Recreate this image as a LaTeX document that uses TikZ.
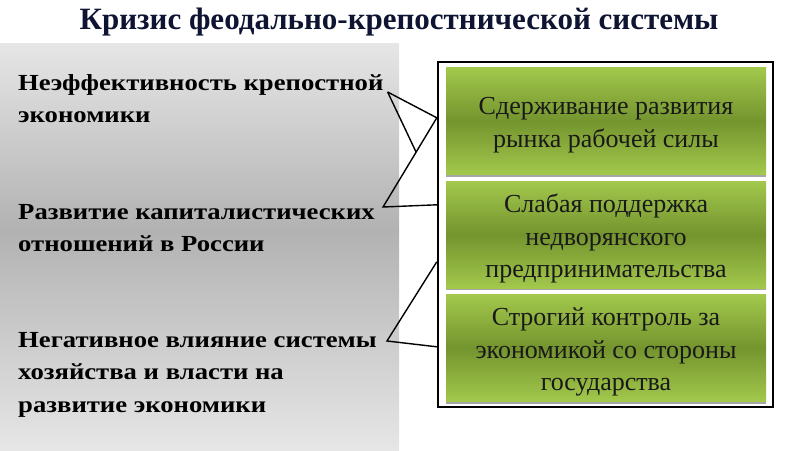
\documentclass[tikz,border=0pt]{standalone}
\usepackage{fontspec}
\setmainfont{Liberation Serif}
\newfontfamily\causefont[FakeStretch=1.16]{Liberation Serif}
\usetikzlibrary{calc,shadows}

\definecolor{titleblue}{RGB}{14,20,50}
\definecolor{greenlt}{RGB}{162,200,76}
\definecolor{greendk}{RGB}{116,148,46}
\definecolor{panellt}{RGB}{230,230,230}
\definecolor{paneldk}{RGB}{178,178,178}
\pgfdeclareverticalshading{panelshade}{100bp}{color(0bp)=(panellt);
  color(25bp)=(panellt); color(52bp)=(paneldk); color(75bp)=(panellt);
  color(100bp)=(panellt)}

\begin{document}
\begin{tikzpicture}[x=1pt,y=-1pt,
  cause/.style={anchor=north west,align=left,inner sep=0pt,
    font=\causefont\bfseries\fontsize{23}{32.5}\selectfont},
  effect/.style={minimum width=320pt,minimum height=107pt,inner sep=0pt,
    top color=greenlt,bottom color=greenlt,middle color=greendk,
    drop shadow={shadow xshift=0pt,shadow yshift=-2pt,fill=black!35,opacity=1}},
  efftext/.style={align=center,inner sep=0pt,text=black!90,
    font=\fontsize{26}{32.5}\selectfont},
  callout/.style={draw=black,line width=1.4pt,line join=miter}]
  \useasboundingbox (0,0) rectangle (800,450);
  % title
  \node[text=titleblue,font=\bfseries\fontsize{31}{34}\selectfont]
    (title) at (399,22) {Кризис феодально-крепостнической системы};
  % grey panel on the left
  \shade[shading=panelshade] (0,43) rectangle (399,450);
  % causes
  \node[cause] (ineff) at (18,74) {Неэффективность крепостной\\экономики};
  \node[cause] (capit) at (18,204) {Развитие капиталистических\\отношений в России};
  \node[cause] (negat) at (18,332) {Негативное влияние системы\\хозяйства и власти на\\развитие экономики};
  % frame with the effects
  \node[draw=black,line width=2.4pt,fill=white,minimum width=335pt,
    minimum height=345pt] (frame) at (605.5,234.5) {};
  \foreach \n/\y/\t in {1/121/{Сдерживание развития\\рынка рабочей силы},
      2/234.5/{Слабая поддержка\\недворянского\\предпринимательства},
      3/348/{Строгий контроль за\\экономикой со стороны\\государства}} {
    \node[effect] (eff\n) at (606,\y) {};
    \node[efftext] (txt\n) at ($(eff\n.center)+(0,4)$) {\t};
  }
  % callout lines
  \coordinate (a) at ($(ineff.north east)+(4,18)$);
  \coordinate (b) at ($(frame.north west)+(0,57)$);
  \coordinate (d) at ($(capit.north east)+(8,3)$);
  \coordinate (e) at ($(frame.north west)+(0,144)$);
  \coordinate (c) at ($(b)!0.385!(d)$);
  \coordinate (f) at ($(frame.north west)+(0,201)$);
  \coordinate (g) at ($(negat.north east)+(10,9)$);
  \coordinate (h) at ($(frame.north west)+(0,286)$);
  \draw[callout] (a) -- (b) -- (d) -- (e);
  \draw[callout] (a) -- (c);
  \draw[callout] (f) -- (g) -- (h);
\end{tikzpicture}
\end{document}
